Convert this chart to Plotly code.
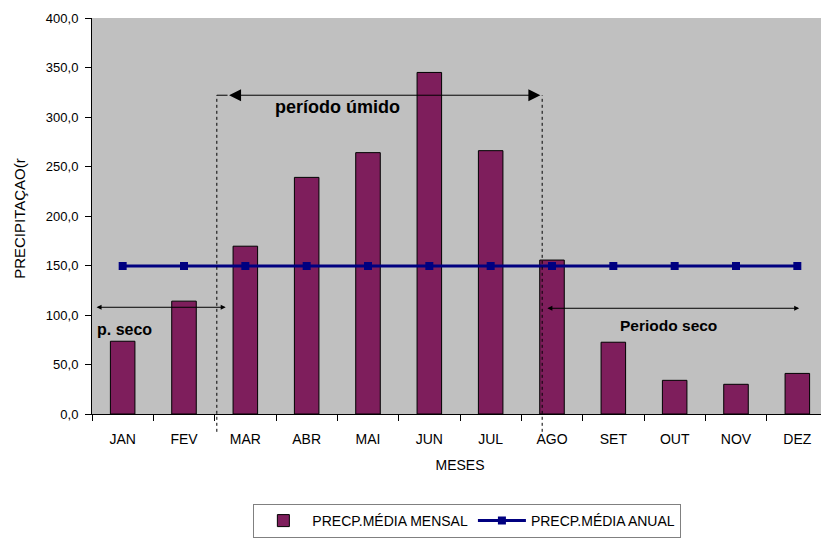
import plotly.graph_objects as go

meses = ["JAN", "FEV", "MAR", "ABR", "MAI", "JUN", "JUL", "AGO", "SET", "OUT", "NOV", "DEZ"]
prec_mensal = [73.5, 114.0, 169.5, 239.0, 264.0, 345.0, 266.0, 155.5, 72.5, 34.0, 30.0, 41.0]
prec_anual = [149.5, 149.5, 149.5, 149.5, 149.5, 149.5, 149.5, 149.5, 149.5, 149.5, 149.5, 149.5]
y_ticks = [0, 50, 100, 150, 200, 250, 300, 350, 400]

# annotation positions (category index units / data units)
umido_x0, umido_x1, umido_line_start, umido_y = 1.71, 6.81, 1.535, 322.0
seco1_x0, seco1_x1, seco1_y = -0.45, 1.68, 107.8
seco2_x0, seco2_x1, seco2_y = 6.90, 11.03, 106.8
div_lines = [1.535, 6.84]

FONT = "Liberation Sans, Arial, sans-serif"

fig = go.Figure()
fig.add_trace(go.Bar(
    x=meses, y=prec_mensal, name="PRECP.MÉDIA MENSAL",
    marker=dict(color="#7E1E5C", line=dict(color="black", width=1)),
    width=0.4,
))
fig.add_trace(go.Scatter(
    x=meses, y=prec_anual, name="PRECP.MÉDIA ANUAL", mode="lines+markers",
    line=dict(color="#000080", width=3),
    marker=dict(symbol="square", size=8, color="#000080"),
))

shapes = []
for xd in div_lines:
    shapes.append(dict(type="line", xref="x domain", yref="paper",
                       x0=(xd + 0.5) / 12, x1=(xd + 0.5) / 12,
                       y0=-0.045, y1=umido_y / 400,
                       line=dict(color="black", width=1, dash="dot")))
# extension of top arrow line
shapes.append(dict(type="line", xref="x", yref="y", x0=umido_line_start, x1=umido_x0,
                   y0=umido_y, y1=umido_y, line=dict(color="black", width=1)))

annotations = []
def darrow(x0, x1, y, head, size):
    annotations.append(dict(xref="x", yref="y", axref="x", ayref="y",
                            x=x1, y=y, ax=x0, ay=y, text="", showarrow=True,
                            arrowside="end+start", arrowhead=head, arrowsize=size,
                            arrowwidth=1, arrowcolor="black"))

darrow(umido_x0, umido_x1, umido_y, 2, 2.4)
darrow(seco1_x0, seco1_x1, seco1_y, 2, 1)
darrow(seco2_x0, seco2_x1, seco2_y, 2, 1)

annotations.append(dict(xref="x", yref="y", x=3.5, y=310, text="<b>período úmido</b>",
                        showarrow=False, font=dict(family=FONT, size=18, color="black")))
annotations.append(dict(xref="x", yref="y", x=0.03, y=85, text="<b>p. seco</b>",
                        showarrow=False, font=dict(family=FONT, size=16, color="black")))
annotations.append(dict(xref="x", yref="y", x=8.9, y=89, text="<b>Periodo seco</b>",
                        showarrow=False, font=dict(family=FONT, size=15.5, color="black")))
annotations.append(dict(xref="paper", yref="paper", x=-0.098, y=0.495, text="PRECIPITAÇAO(r",
                        xanchor="center", yanchor="middle",
                        textangle=-90, showarrow=False, font=dict(family=FONT, size=15, color="black")))

# page body has an 8px margin: figure is sized so the plot lands where the reference has it
fig.update_layout(
    width=821, height=530,
    margin=dict(l=84, r=1, t=10, b=123),
    paper_bgcolor="white", plot_bgcolor="#C0C0C0",
    separators=",.",
    font=dict(family=FONT, size=12, color="black"),
    shapes=shapes, annotations=annotations,
    showlegend=True,
    legend=dict(orientation="h", x=0.51, y=-0.226, xanchor="center", yanchor="top",
                bordercolor="#808080", borderwidth=1, bgcolor="white",
                font=dict(family=FONT, size=14, color="black"),
                itemwidth=48, tracegroupgap=0),
    bargap=0.6,
)
fig.update_xaxes(type="category", tickson="boundaries", ticks="outside", ticklen=6,
                 tickcolor="black", showline=True, linecolor="black", linewidth=1,
                 showgrid=False, ticklabelstandoff=12,
                 title=dict(text="MESES", font=dict(family=FONT, size=14), standoff=14),
                 tickfont=dict(family=FONT, size=14, color="black"), range=[-0.5, 11.5])
fig.update_yaxes(range=[0, 400], tickvals=y_ticks, tickformat=".1f", ticks="outside",
                 ticklen=6, tickcolor="black", showline=True, linecolor="black", linewidth=1,
                 showgrid=False, zeroline=False, ticklabelstandoff=4,
                 tickfont=dict(family=FONT, size=13, color="black"))

fig.write_html("out.html")
